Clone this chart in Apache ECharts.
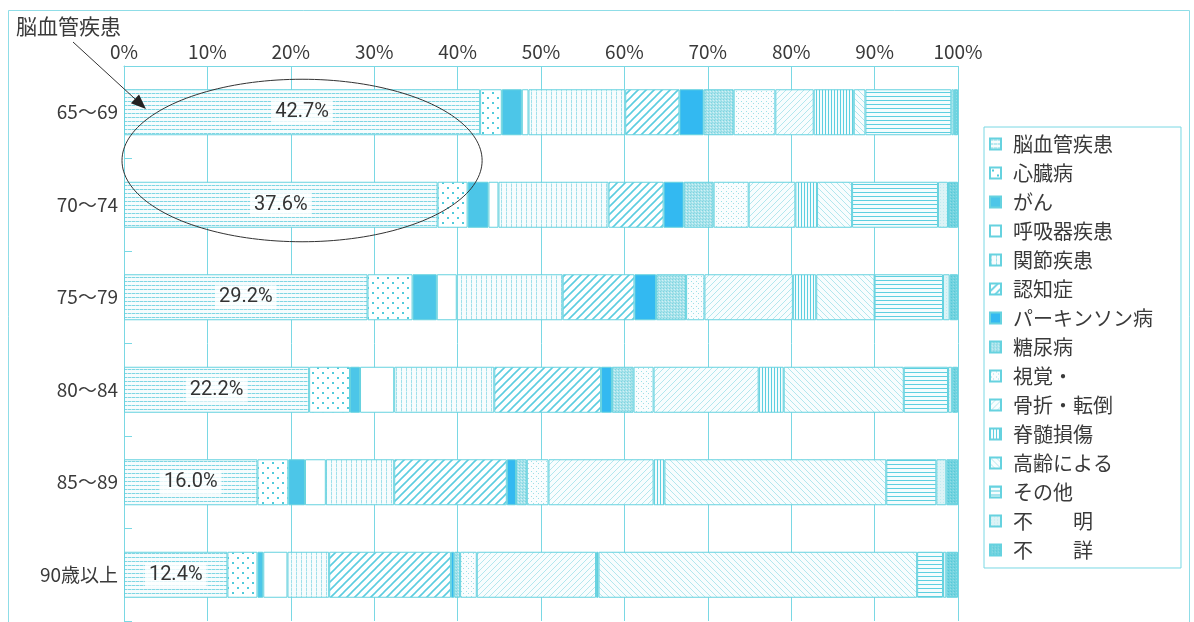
<!DOCTYPE html>
<html>
<head>
<meta charset="utf-8">
<script src="https://cdn.jsdelivr.net/npm/echarts@6/dist/echarts.min.js"></script>
<style>
  html, body { margin: 0; padding: 0; background: #ffffff; }
  #chart { width: 1194px; height: 622px; }
</style>
</head>
<body>
<div id="chart"></div>
<script>
// Age groups (rows) and causes (stacked segments, percent of each row)
const ageGroups = ['65～69', '70～74', '75～79', '80～84', '85～89', '90歳以上'];
const causes = ['脳血管疾患', '心臓病', 'がん', '呼吸器疾患', '関節疾患', '認知症', 'パーキンソン病',
  '糖尿病', '視覚・', '骨折・転倒', '脊髄損傷', '高齢による', 'その他', '不　　明', '不　　詳'];

const cerebrovascular = [42.7, 37.6, 29.2, 22.2, 16.0, 12.4];
const heartDisease    = [2.6, 3.6, 5.4, 4.9, 3.7, 3.6];
const cancer          = [2.4, 2.5, 2.9, 1.2, 2.0, 0.7];
const respiratory     = [0.8, 1.2, 2.4, 4.1, 2.5, 2.9];
const jointDisease    = [11.6, 13.2, 12.7, 12.0, 8.2, 5.0];
const dementia        = [6.5, 6.6, 8.6, 12.8, 13.5, 14.6];
const parkinsons      = [2.9, 2.4, 2.6, 1.3, 1.1, 0.4];
const diabetes        = [3.6, 3.6, 3.6, 2.6, 1.3, 0.7];
const vision          = [5.0, 4.2, 2.2, 2.4, 2.6, 2.0];
const fractureFall    = [4.6, 5.6, 10.6, 12.6, 12.6, 14.3];
const spinalInjury    = [4.8, 2.6, 2.8, 3.0, 1.3, 0.3];
const oldAge          = [1.4, 4.2, 7.0, 14.4, 26.6, 38.2];
const otherCauses     = [10.3, 10.3, 8.2, 5.3, 6.0, 3.1];
const unknownCause    = [0.3, 1.2, 0.8, 0.5, 1.2, 0.4];
const notStated       = [0.5, 1.2, 1.0, 0.7, 1.4, 1.4];

const seriesValues = [cerebrovascular, heartDisease, cancer, respiratory, jointDisease, dementia,
  parkinsons, diabetes, vision, fractureFall, spinalInjury, oldAge, otherCauses, unknownCause, notStated];

const xTickStep = 10;

// ---- fill patterns ----
const CYAN = '#4fcbdc';
const FONT = '"Noto Sans CJK JP", "Noto Sans", sans-serif';

function pattern(w, h, bg, draw) {
  const c = document.createElement('canvas');
  c.width = w; c.height = h;
  const g = c.getContext('2d');
  g.fillStyle = bg; g.fillRect(0, 0, w, h);
  if (draw) draw(g);
  return { image: c, repeat: 'repeat' };
}
function diag(size, color, width, forward, bg) {
  return pattern(size, size, bg, g => {
    g.strokeStyle = color; g.lineWidth = width;
    g.beginPath();
    if (forward) {
      g.moveTo(-1, size + 1); g.lineTo(size + 1, -1);
      g.moveTo(-1, 1); g.lineTo(1, -1);
      g.moveTo(size - 1, size + 1); g.lineTo(size + 1, size - 1);
    } else {
      g.moveTo(-1, -1); g.lineTo(size + 1, size + 1);
      g.moveTo(size - 1, -1); g.lineTo(size + 1, 1);
      g.moveTo(-1, size - 1); g.lineTo(1, size + 1);
    }
    g.stroke();
  });
}

const fills = [
  // 脳血管疾患: dotted horizontal rules
  pattern(4, 4, '#f6fcfd', g => { g.fillStyle = '#7fd6e3'; g.fillRect(0, 1, 3, 1); g.fillStyle = '#bfeaf0'; g.fillRect(3, 1, 1, 1); }),
  // 心臓病: scattered dots
  pattern(10, 10, '#ffffff', g => { g.fillStyle = CYAN; g.fillRect(2, 2, 2, 2); g.fillRect(7, 7, 2, 2); }),
  // がん
  '#4cc6e8',
  // 呼吸器疾患
  '#ffffff',
  // 関節疾患: dotted vertical rules
  pattern(5, 4, '#f7fcfd', g => { g.fillStyle = '#9fe0ea'; g.fillRect(1, 0, 1, 3); g.fillStyle = '#d0f0f4'; g.fillRect(1, 3, 1, 1); }),
  // 認知症: bold diagonal hatch
  diag(8, '#5ccde0', 1.6, true, '#ffffff'),
  // パーキンソン病
  '#33b9f1',
  // 糖尿病: fine grain
  pattern(3, 3, '#a9e3eb', g => { g.fillStyle = '#7dd4e0'; g.fillRect(0, 0, 1, 1); g.fillStyle = '#d2f1f5'; g.fillRect(2, 1, 1, 1); g.fillStyle = '#8fdae4'; g.fillRect(1, 2, 1, 1); }),
  // 視覚・: fine sparse dots
  pattern(5, 5, '#fafdfe', g => { g.fillStyle = '#9fdfe8'; g.fillRect(1, 1, 1, 1); g.fillRect(3, 3, 1, 1); }),
  // 骨折・転倒: light diagonal hatch
  diag(6, '#b3e7ee', 1, true, '#f8fdfe'),
  // 脊髄損傷: vertical rules
  pattern(3, 2, '#f4fcfd', g => { g.fillStyle = '#5dcfe0'; g.fillRect(0, 0, 1, 2); }),
  // 高齢による: light back-diagonal hatch
  diag(6, '#b3e7ee', 1, false, '#f8fdfe'),
  // その他: horizontal rules
  pattern(2, 4, '#f4fcfd', g => { g.fillStyle = '#5dcfe0'; g.fillRect(0, 0, 2, 1); }),
  // 不明: pale grain
  pattern(3, 3, '#dcf3f6', g => { g.fillStyle = '#c0ebf0'; g.fillRect(1, 1, 1, 1); }),
  // 不詳: dense grain
  pattern(3, 3, '#72d3df', g => { g.fillStyle = '#55c8d8'; g.fillRect(0, 0, 1, 1); g.fillStyle = '#92dde6'; g.fillRect(2, 1, 1, 1); })
];

const series = causes.map((name, i) => ({
  name: name,
  type: 'bar',
  stack: 'total',
  barWidth: 46,
  data: seriesValues[i],
  itemStyle: { color: fills[i], borderColor: '#66d2df', borderWidth: 1 },
  emphasis: { disabled: true },
  label: i === 0 ? {
    show: true,
    position: 'inside',
    formatter: p => p.value.toFixed(1) + '%',
    fontSize: 20,
    fontFamily: 'Roboto, "Noto Sans", sans-serif',
    color: '#333333',
    backgroundColor: 'rgba(255,255,255,0.8)',
    padding: [2, 4]
  } : { show: false }
}));

const chart = echarts.init(document.getElementById('chart'), null, { renderer: 'canvas' });

const option = {
  animation: false,
  backgroundColor: '#ffffff',
  textStyle: { fontFamily: FONT },
  grid: { left: 124, right: 236, top: 66, bottom: 1 },
  xAxis: {
    type: 'value',
    position: 'top',
    min: 0, max: 100, interval: xTickStep,
    axisLine: { show: true, lineStyle: { color: '#7ad8e4', width: 1 } },
    axisTick: { show: false },
    axisLabel: { formatter: '{value}%', fontSize: 19, color: '#3a3a3a', margin: 5, fontFamily: FONT },
    splitLine: { show: true, lineStyle: { color: '#7ad8e4', width: 1 } }
  },
  yAxis: {
    type: 'category',
    inverse: true,
    data: ageGroups,
    axisLine: { show: true, lineStyle: { color: '#7ad8e4', width: 1 } },
    axisTick: { show: true, inside: true, length: 8, lineStyle: { color: '#7ad8e4' } },
    axisLabel: { fontSize: 19, color: '#3a3a3a', margin: 6, fontFamily: FONT }
  },
  legend: {
    data: causes,
    orient: 'vertical',
    left: 984, top: 127,
    padding: [7, 28, 8, 5],
    itemGap: 9,
    itemWidth: 11, itemHeight: 11,
    icon: 'rect',
    selectedMode: false,
    borderColor: '#7ad8e4', borderWidth: 1,
    textStyle: { fontSize: 20, color: '#3a3a3a', fontFamily: FONT, padding: [0, 0, 0, 7] }
  },
  series: series
};

chart.setOption(option);

// Annotation: ellipse around the cerebrovascular segments of the first two rows
const a = chart.convertToPixel({ gridIndex: 0 }, [0, ageGroups[0]]);
const b = chart.convertToPixel({ gridIndex: 0 }, [cerebrovascular[0], ageGroups[1]]);
const cx = (a[0] + b[0]) / 2, cy = (a[1] + b[1]) / 2 + 2;
const rx = (b[0] - a[0]) / 2 + 2, ry = (b[1] - a[1]) / 2 + 35;
const ring = [];
for (let k = 0; k < 180; k++) {
  const t = (k / 180) * Math.PI * 2;
  ring.push([cx + rx * Math.cos(t), cy + ry * Math.sin(t)]);
}

// Leader arrow from the caption to the ellipse
const from = [73, 42], tip = [146, 109];
const dx = tip[0] - from[0], dy = tip[1] - from[1];
const len = Math.hypot(dx, dy), ux = dx / len, uy = dy / len;
const headLen = 15, headHalf = 6;
const base = [tip[0] - ux * headLen, tip[1] - uy * headLen];
const head = [tip, [base[0] - uy * headHalf, base[1] + ux * headHalf], [base[0] + uy * headHalf, base[1] - ux * headHalf]];

chart.setOption({
  graphic: [
    { type: 'rect', silent: true, z: -10, shape: { x: 8.5, y: 10.5, width: 1181, height: 640 },
      style: { fill: null, stroke: '#8fdde7', lineWidth: 1 } },
    { type: 'polygon', silent: true, z: 100, shape: { points: ring },
      style: { fill: null, stroke: '#333333', lineWidth: 1 } },
    { type: 'line', silent: true, z: 100, shape: { x1: from[0], y1: from[1], x2: base[0], y2: base[1] },
      style: { stroke: '#333333', lineWidth: 1 } },
    { type: 'polygon', silent: true, z: 100, shape: { points: head },
      style: { fill: '#222222' } },
    { type: 'text', silent: true, z: 100, left: 16, top: 16,
      style: { text: '脳血管疾患', fontSize: 21, fill: '#3a3a3a', fontFamily: FONT } }
  ]
});
</script>
</body>
</html>
